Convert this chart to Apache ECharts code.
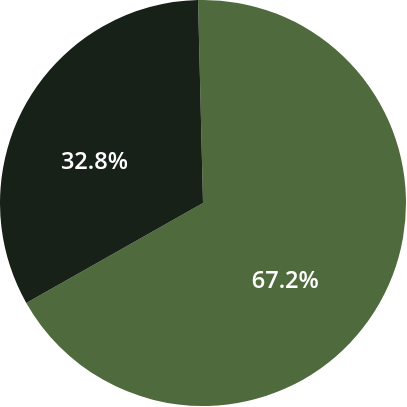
<!DOCTYPE html>
<html>
<head>
<meta charset="utf-8">
<script src="https://cdn.jsdelivr.net/npm/echarts@6/dist/echarts.min.js"></script>
<style>html,body{margin:0;padding:0;background:#fff;}#c{width:407px;height:407px;}</style>
</head>
<body>
<div id="c"></div>
<script>
const categories = ['A', 'B'];
const values = [67.2, 32.8];
const labels = ['67.2%', '32.8%'];
const colors = ['#4f6b3d', '#172117'];
const labelShift = [[-8.6, 26.3], [-17.7, 11.3]];

const chart = echarts.init(document.getElementById('c'), null, {renderer: 'canvas'});
chart.setOption({
  animation: false,
  series: [{
    type: 'pie',
    center: [203, 203],
    radius: [0, 203],
    startAngle: 91.4,
    clockwise: true,
    silent: true,
    itemStyle: {borderWidth: 0},
    label: {
      show: true,
      position: 'inside',
      color: '#ffffff',
      fontFamily: 'Open Sans',
      fontSize: 23.5,
      fontWeight: 600,
      formatter: p => labels[p.dataIndex]
    },
    labelLayout: p => ({dx: labelShift[p.dataIndex][0], dy: labelShift[p.dataIndex][1]}),
    data: categories.map((c, i) => ({name: c, value: values[i], itemStyle: {color: colors[i]}}))
  }]
});
</script>
</body>
</html>
